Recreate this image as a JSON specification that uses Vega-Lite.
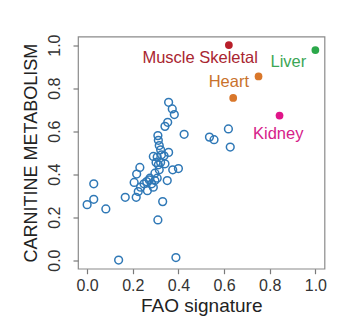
{
  "$schema": "https://vega.github.io/schema/vega-lite/v6.json",
  "autosize": {"type": "none"},
  "padding": {"left": 78, "top": 36.5, "right": 19.5, "bottom": 61.3},
  "width": 246.5,
  "height": 232.2,
  "background": "white",
  "config": {
    "view": {"stroke": "#8a8a8a", "strokeWidth": 1.2},
    "font": "Liberation Sans",
    "axis": {
      "grid": false,
      "domain": false,
      "tickColor": "#7a7a7a",
      "tickSize": 5,
      "tickWidth": 1.2,
      "labelFont": "Liberation Sans",
      "labelFontSize": 16,
      "labelColor": "#333333",
      "titleFont": "Liberation Sans",
      "titleFontSize": 18,
      "titleFontWeight": "normal",
      "titleColor": "#222222",
      "labelFlush": false,
      "labelOverlap": false
    }
  },
  "datasets": {
    "tissues": [
      {"x": 0.000, "y": 0.258}, {"x": 0.029, "y": 0.283}, {"x": 0.029, "y": 0.355}, {"x": 0.082, "y": 0.238},
      {"x": 0.138, "y": 0.000}, {"x": 0.167, "y": 0.292}, {"x": 0.215, "y": 0.292}, {"x": 0.206, "y": 0.361},
      {"x": 0.217, "y": 0.400}, {"x": 0.231, "y": 0.431}, {"x": 0.224, "y": 0.319}, {"x": 0.234, "y": 0.339},
      {"x": 0.249, "y": 0.355}, {"x": 0.264, "y": 0.323}, {"x": 0.261, "y": 0.365}, {"x": 0.272, "y": 0.373},
      {"x": 0.283, "y": 0.355}, {"x": 0.290, "y": 0.339}, {"x": 0.297, "y": 0.370}, {"x": 0.307, "y": 0.381},
      {"x": 0.290, "y": 0.482}, {"x": 0.302, "y": 0.454}, {"x": 0.312, "y": 0.443}, {"x": 0.322, "y": 0.454},
      {"x": 0.337, "y": 0.485}, {"x": 0.341, "y": 0.448}, {"x": 0.316, "y": 0.420}, {"x": 0.310, "y": 0.187},
      {"x": 0.331, "y": 0.272}, {"x": 0.351, "y": 0.370}, {"x": 0.357, "y": 0.501}, {"x": 0.375, "y": 0.420},
      {"x": 0.400, "y": 0.426}, {"x": 0.389, "y": 0.012}, {"x": 0.310, "y": 0.579}, {"x": 0.312, "y": 0.557},
      {"x": 0.316, "y": 0.533}, {"x": 0.322, "y": 0.513}, {"x": 0.341, "y": 0.622}, {"x": 0.353, "y": 0.641},
      {"x": 0.357, "y": 0.734}, {"x": 0.373, "y": 0.703}, {"x": 0.382, "y": 0.677}, {"x": 0.425, "y": 0.585},
      {"x": 0.536, "y": 0.572}, {"x": 0.556, "y": 0.560}, {"x": 0.619, "y": 0.610}, {"x": 0.627, "y": 0.526},
      {"x": 0.307, "y": 0.479}, {"x": 0.326, "y": 0.490}, {"x": 0.275, "y": 0.381}, {"x": 0.297, "y": 0.404}
    ],
    "highlight": [
      {"tissue": "Muscle Skeletal", "x": 0.621, "y": 1.000},
      {"tissue": "Liver", "x": 1.000, "y": 0.977},
      {"tissue": "Heart", "x": 0.751, "y": 0.854},
      {"tissue": "Heart", "x": 0.640, "y": 0.754},
      {"tissue": "Kidney", "x": 0.843, "y": 0.672}
    ]
  },
  "encoding": {
    "x": {
      "field": "x", "type": "quantitative",
      "scale": {"domain": [-0.04, 1.04], "nice": false, "zero": false},
      "axis": {"title": "FAO signature", "titleFontSize": 19, "values": [0, 0.2, 0.4, 0.6, 0.8, 1.0], "format": ".1f", "labelPadding": 4, "titlePadding": 3}
    },
    "y": {
      "field": "y", "type": "quantitative",
      "scale": {"domain": [-0.04, 1.04], "nice": false, "zero": false},
      "axis": {"title": "CARNITINE METABOLISM", "values": [0, 0.2, 0.4, 0.6, 0.8, 1.0], "format": ".1f", "labelAngle": -90, "labelAlign": "center", "labelBaseline": "bottom", "labelPadding": 11, "titlePadding": 6}
    }
  },
  "layer": [
    {
      "data": {"name": "tissues"},
      "mark": {"type": "point", "shape": "circle", "filled": false, "size": 60, "stroke": "#2f78b6", "strokeWidth": 1.5, "opacity": 1}
    },
    {
      "data": {"name": "highlight"},
      "mark": {"type": "circle", "size": 60, "opacity": 1},
      "encoding": {
        "color": {
          "field": "tissue", "type": "nominal", "legend": null,
          "scale": {"domain": ["Muscle Skeletal", "Liver", "Heart", "Kidney"], "range": ["#b81f2a", "#2ba84a", "#d9772a", "#e01589"]}
        }
      }
    },
    {
      "data": {"name": "highlight"},
      "transform": [{"filter": "datum.tissue === 'Muscle Skeletal'"}],
      "mark": {"type": "text", "align": "center", "baseline": "alphabetic", "dx": -28.7, "dy": 18.3, "fontSize": 16.5, "font": "Liberation Sans", "color": "#a92530"},
      "encoding": {"text": {"field": "tissue"}}
    },
    {
      "data": {"name": "highlight"},
      "transform": [{"filter": "datum.tissue === 'Liver'"}],
      "mark": {"type": "text", "align": "center", "baseline": "alphabetic", "dx": -27, "dy": 17, "fontSize": 16.5, "font": "Liberation Sans", "color": "#3ba656"},
      "encoding": {"text": {"field": "tissue"}}
    },
    {
      "data": {"name": "highlight"},
      "transform": [{"filter": "datum.tissue === 'Heart' && datum.x > 0.7"}],
      "mark": {"type": "text", "align": "center", "baseline": "alphabetic", "dx": -29.7, "dy": 10.3, "fontSize": 16.5, "font": "Liberation Sans", "color": "#c9722c"},
      "encoding": {"text": {"field": "tissue"}}
    },
    {
      "data": {"name": "highlight"},
      "transform": [{"filter": "datum.tissue === 'Kidney'"}],
      "mark": {"type": "text", "align": "center", "baseline": "alphabetic", "dx": -1.3, "dy": 23, "fontSize": 16.5, "font": "Liberation Sans", "color": "#d6218a"},
      "encoding": {"text": {"field": "tissue"}}
    }
  ]
}
